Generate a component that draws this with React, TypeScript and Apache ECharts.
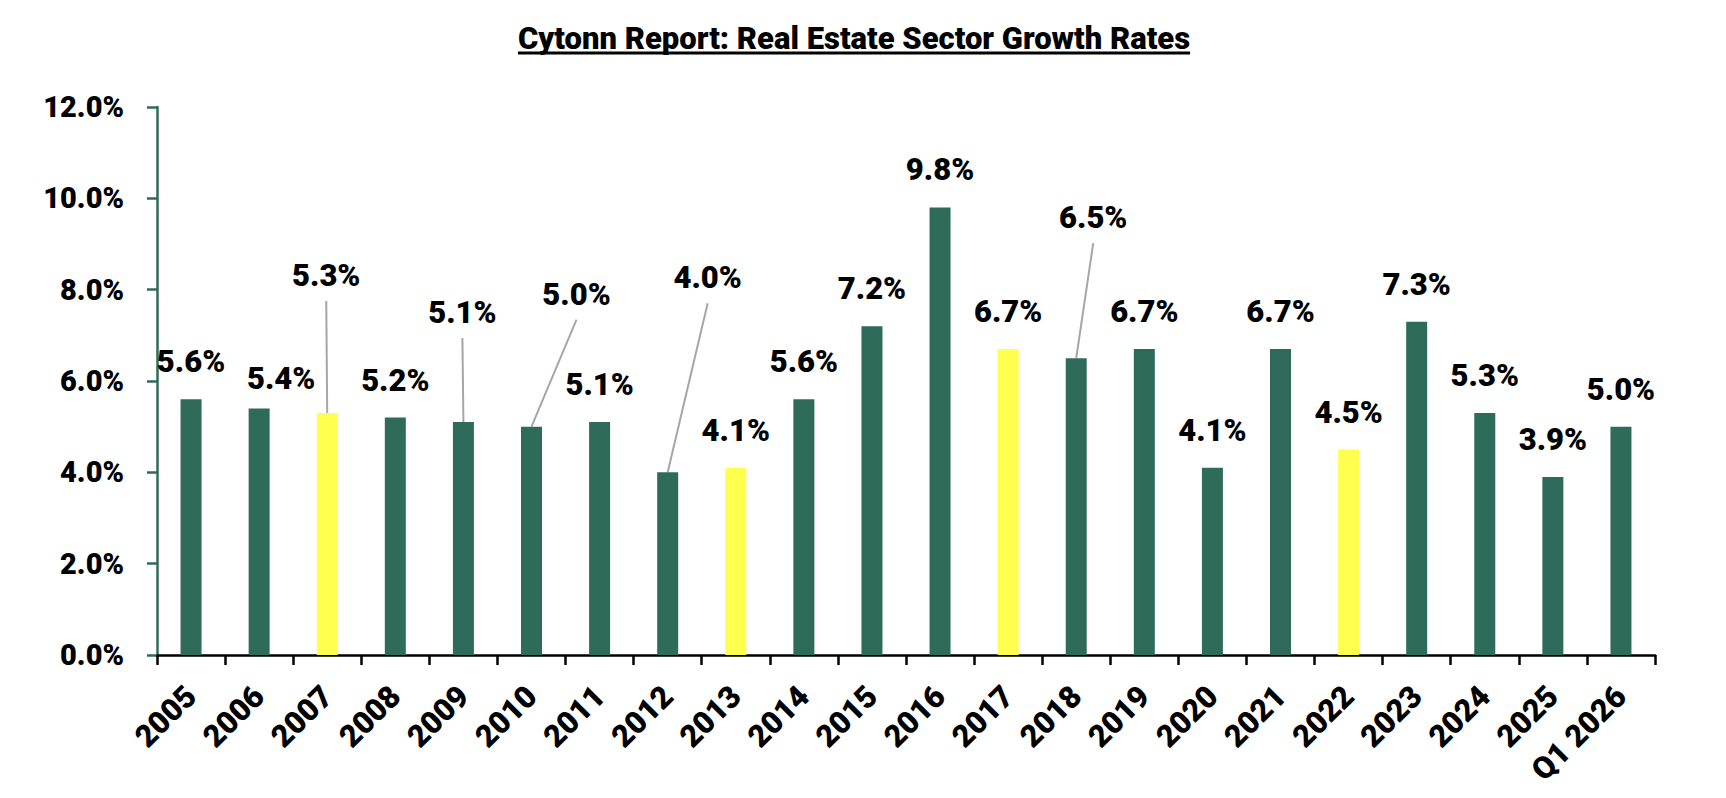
import React, { useEffect, useRef } from "react";
import * as echarts from "echarts";

const categories = [
  "2005", "2006", "2007", "2008", "2009", "2010", "2011", "2012", "2013", "2014", "2015",
  "2016", "2017", "2018", "2019", "2020", "2021", "2022", "2023", "2024", "2025", "Q1 2026",
];
const growthRates = [
  5.6, 5.4, 5.3, 5.2, 5.1, 5.0, 5.1, 4.0, 4.1, 5.6, 7.2, 9.8, 6.7, 6.5, 6.7, 4.1, 6.7, 4.5, 7.3,
  5.3, 3.9, 5.0,
];
const highlightedCategories = ["2007", "2013", "2017", "2022"];
const leaderCategories = ["2007", "2009", "2010", "2012", "2018"];
const yMin = 0;
const yMax = 12;
const yInterval = 2;

// label displacement (px) relative to the default position above the bar
const labelShift: Record<string, [number, number]> = {
  "2006": [22, 8],
  "2007": [-1, -100],
  "2009": [-1, -72],
  "2010": [45, -95],
  "2012": [40, -157],
  "2018": [17, -103],
};

const GREEN = "#2E6B5B";
const YELLOW = "#FFFF4F";
const FONT = "Roboto";
const WEIGHT = 900;
const TITLE = "Cytonn Report: Real Estate Sector Growth Rates";
const LABEL_ABOVE = 38;

export default function App() {
  const ref = useRef<HTMLDivElement>(null);
  useEffect(() => {
    document.body.style.margin = "0";
    if (!ref.current) return;
    const chart = echarts.init(ref.current, null, { renderer: "svg" });

    let titleSize = 30;
    let titleWidth = 688;
    try {
      const ctx = document.createElement("canvas").getContext("2d");
      if (ctx) {
        ctx.font = `${WEIGHT} 30px ${FONT}`;
        const w = ctx.measureText(TITLE).width;
        if (w > 0) {
          titleSize = Math.min(31, (30 * 688) / w);
          ctx.font = `${WEIGHT} ${titleSize}px ${FONT}`;
          titleWidth = ctx.measureText(TITLE).width;
        }
      }
    } catch (e) {}
    const titleX = 854;

    const barData = growthRates.map((v, i) => {
      const cat = categories[i];
      const shift = labelShift[cat];
      return {
        value: v,
        itemStyle: { color: highlightedCategories.includes(cat) ? YELLOW : GREEN },
        label: shift ? { offset: shift } : undefined,
      };
    });

    const leaderData = leaderCategories.map((c) => {
      const i = categories.indexOf(c);
      return [i, growthRates[i]];
    });

    chart.setOption({
      animation: false,
      backgroundColor: "#ffffff",
      textStyle: { fontFamily: FONT },
      graphic: [
        {
          type: "text",
          x: titleX,
          y: 38,
          style: {
            text: TITLE,
            fontFamily: FONT,
            fontWeight: WEIGHT,
            fontSize: titleSize,
            fill: "#000",
            align: "center",
            verticalAlign: "middle",
          },
        },
        {
          type: "line",
          shape: { x1: titleX - titleWidth / 2, y1: 53, x2: titleX + titleWidth / 2, y2: 53 },
          style: { stroke: "#000", lineWidth: 3 },
        },
      ],
      grid: { left: 157, right: 71, top: 107, bottom: 143, outerBoundsMode: "none" },
      xAxis: {
        type: "category",
        data: categories,
        axisLine: { show: true, lineStyle: { color: "#000", width: 2.5 } },
        axisTick: { show: true, length: 10, lineStyle: { color: "#000", width: 2.5 } },
        axisLabel: {
          interval: 0,
          rotate: 45,
          margin: 36,
          fontFamily: FONT,
          fontWeight: WEIGHT,
          fontSize: 31,
          color: "#000",
        },
      },
      yAxis: {
        type: "value",
        min: yMin,
        max: yMax,
        interval: yInterval,
        axisLine: { show: true, lineStyle: { color: GREEN, width: 2.5 } },
        axisTick: { show: true, length: 10, lineStyle: { color: GREEN, width: 2.5 } },
        splitLine: { show: false },
        axisLabel: {
          margin: 33,
          fontFamily: FONT,
          fontWeight: WEIGHT,
          fontSize: 29,
          color: "#000",
          formatter: (v: number) => v.toFixed(1) + "%",
        },
      },
      series: [
        {
          type: "bar",
          data: barData,
          barWidth: 21,
          z: 2,
          label: {
            show: true,
            position: "top",
            distance: 22,
            fontFamily: FONT,
            fontWeight: WEIGHT,
            fontSize: 31,
            color: "#000",
            formatter: (p: any) => Number(p.value).toFixed(1) + "%",
          },
        },
        {
          type: "custom",
          z: 1,
          silent: true,
          data: leaderData,
          encode: { x: 0, y: 1 },
          renderItem: (params: any, api: any) => {
            const idx = api.value(0);
            const val = api.value(1);
            const p = api.coord([idx, val]);
            const shift = labelShift[categories[idx]] || [0, 0];
            return {
              type: "line",
              shape: {
                x1: p[0] + shift[0],
                y1: p[1] - LABEL_ABOVE + shift[1] + 26,
                x2: p[0],
                y2: p[1],
              },
              style: { stroke: "#A6A6A6", lineWidth: 2 },
            };
          },
        },
      ],
    });
    return () => chart.dispose();
  }, []);
  return <div ref={ref} style={{ width: 1726, height: 798 }} />;
}
